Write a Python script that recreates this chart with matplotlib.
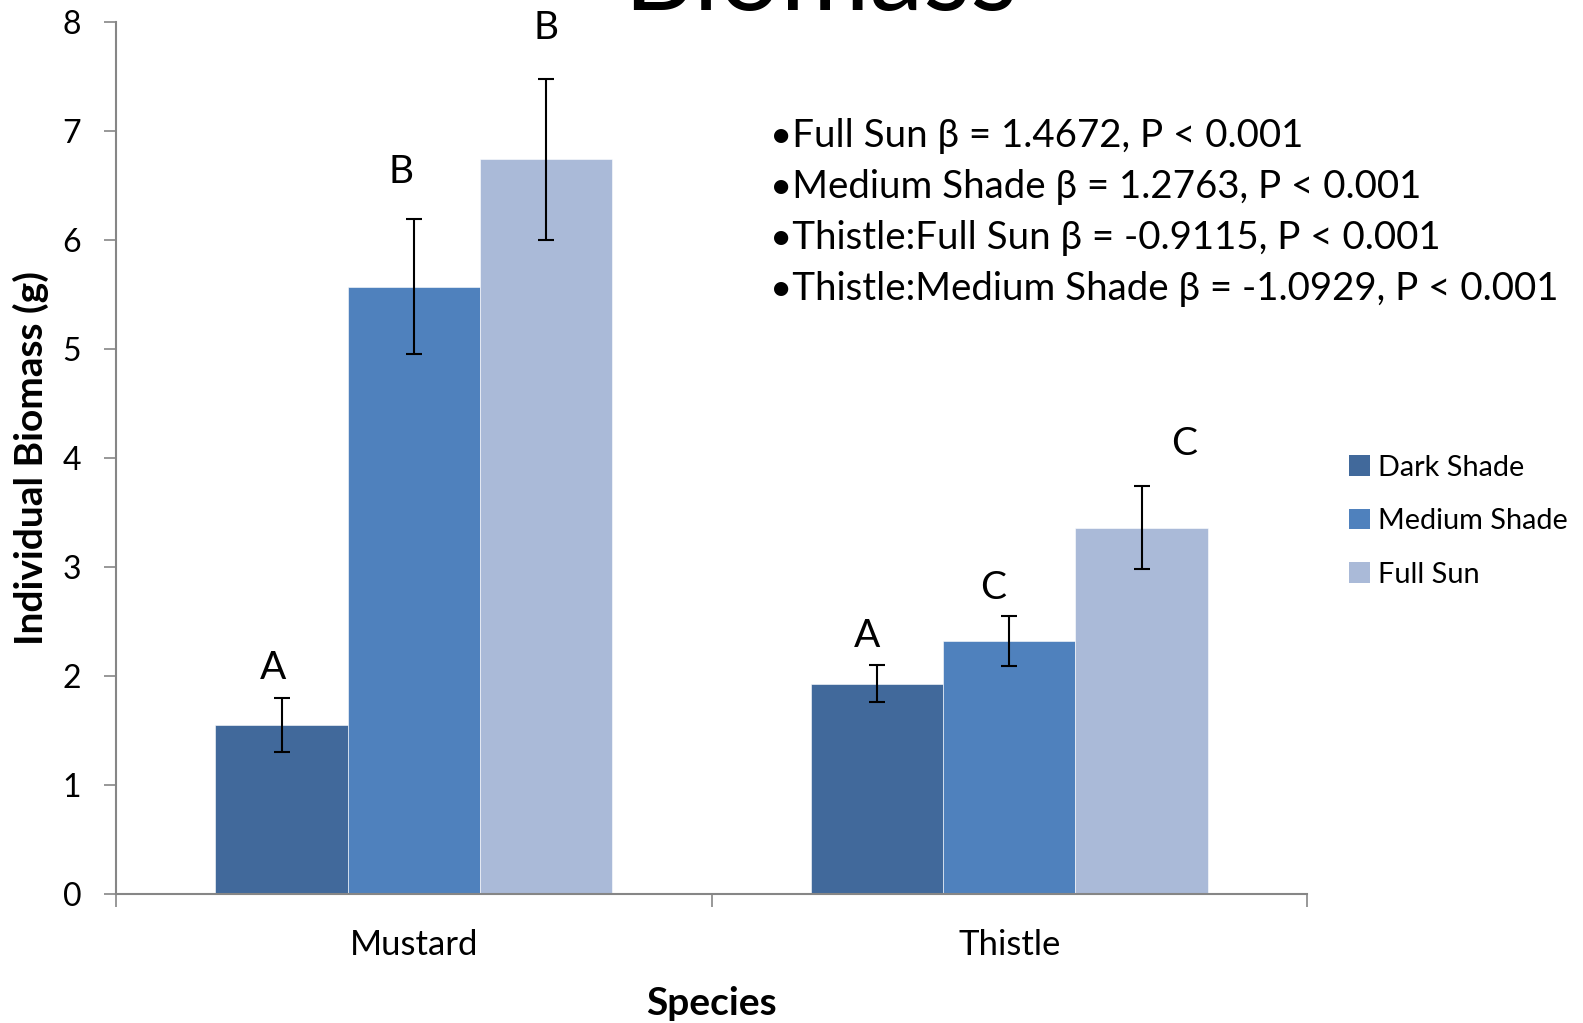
import matplotlib
matplotlib.use("Agg")
import matplotlib.pyplot as plt
from matplotlib.patches import Patch
import numpy as np

plt.rcParams['font.family'] = ['Lato', 'DejaVu Sans']

species = ["Mustard", "Thistle"]
treatments = ["Dark Shade", "Medium Shade", "Full Sun"]
means = {
    "Dark Shade": [1.55, 1.93],
    "Medium Shade": [5.57, 2.32],
    "Full Sun": [6.74, 3.36],
}
errors = {
    "Dark Shade": [0.25, 0.17],
    "Medium Shade": [0.62, 0.23],
    "Full Sun": [0.74, 0.38],
}
letters = {
    "Dark Shade": ["A", "A"],
    "Medium Shade": ["B", "C"],
    "Full Sun": ["B", "C"],
}
stats_lines = [
    "•Full Sun β = 1.4672, P < 0.001",
    "•Medium Shade β = 1.2763, P < 0.001",
    "•Thistle:Full Sun β = -0.9115, P < 0.001",
    "•Thistle:Medium Shade β = -1.0929, P < 0.001",
]
colors = ["#41699B", "#4F81BD", "#AABAD8"]
# letter label offsets in points (layout only)
letter_dx = {"Dark Shade": [-5.8, -7.3], "Medium Shade": [-9.4, -11.6], "Full Sun": [0, 31]}
letter_dy = {"Dark Shade": [13.2, 13.2], "Medium Shade": [26.2, 12.4], "Full Sun": [28.4, 22.6]}

fig = plt.figure(figsize=(15.83, 10.23), dpi=100)
ax = fig.add_axes([0.0733, 0.1261, 0.7524, 0.8524])

x = np.arange(len(species))
w = 0.222
for i, t in enumerate(treatments):
    pos = x + (i - 1) * w
    ax.bar(pos, means[t], width=w, color=colors[i], edgecolor="white", linewidth=0.4, zorder=2)
    ax.errorbar(pos, means[t], yerr=errors[t], fmt="none", ecolor="black",
                elinewidth=1.5, capsize=6, capthick=1.5, zorder=3)
    for j, (p, m, e, lab) in enumerate(zip(pos, means[t], errors[t], letters[t])):
        ax.annotate(lab, (p, m + e), xytext=(letter_dx[t][j], letter_dy[t][j]),
                    textcoords="offset points", ha="center", va="baseline", fontsize=28)

ax.set_xlim(-0.5, 1.5)
ax.set_ylim(0, 8)
ax.set_yticks(range(0, 9))
ax.tick_params(axis="y", labelsize=23, length=9, width=1.2, color="#868686", pad=16)
ax.set_xticks(x)
ax.set_xticklabels(species)
ax.set_xticks([-0.5, 0.5, 1.5], minor=True)
ax.tick_params(axis="x", which="major", length=0, labelsize=25, pad=25)
ax.tick_params(axis="x", which="minor", length=9, width=1.2, color="#868686")
for s in ["top", "right"]:
    ax.spines[s].set_visible(False)
for s in ["left", "bottom"]:
    ax.spines[s].set_color("#868686")
    ax.spines[s].set_linewidth(1.5)

ax.set_ylabel("Individual Biomass (g)", fontsize=28, fontweight="bold", labelpad=10)
ax.set_xlabel("Species", fontsize=28, fontweight="bold", labelpad=18)

for k, line in enumerate(stats_lines):
    ax.text(0.549, 0.869 - k * 0.0585, line, transform=ax.transAxes,
            fontsize=27.7, ha="left", va="center")

handles = [Patch(facecolor=c, edgecolor="none") for c in colors]
fig.legend(handles, treatments, loc="upper left", bbox_to_anchor=(0.836, 0.581),
           frameon=False, fontsize=20.8, handlelength=0.7, handleheight=0.7,
           handletextpad=0.3, labelspacing=0.95)

fig.text(0.518, 1 - 10 / 1023, "Biomass", fontsize=78, ha="center", va="baseline")

fig.savefig("out.png", dpi=100)
